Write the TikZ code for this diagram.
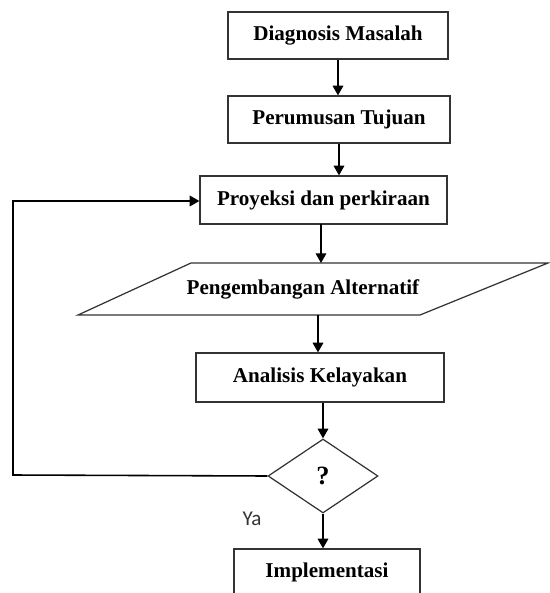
\documentclass[tikz,border=0pt]{standalone}
\usepackage{fontspec}
\setmainfont{Liberation Serif}
\newfontfamily\yafont{Carlito}
\usetikzlibrary{shapes.geometric,arrows.meta}

\begin{document}
\begin{tikzpicture}[
    box/.style={draw=black!80,line width=0.7pt,minimum height=0.94cm,inner sep=0pt,font=\fontsize{12}{14}\selectfont\bfseries},
    flow/.style={line width=0.9pt,-{Triangle[width=6pt,length=5.5pt]}}]
  \useasboundingbox (0,0) rectangle (11,-11.86);
  \clip (0,0) rectangle (11,-11.86);

  \node[box,minimum width=4.4cm] (diag) at (6.76,-0.71) {Diagnosis Masalah};
  \node[box,minimum width=4.44cm] (tuju) at (6.78,-2.39) {Perumusan Tujuan};
  \node[box,minimum width=4.94cm,minimum height=0.96cm] (proy) at (6.47,-4.0) {Proyeksi dan perkiraan};
  \node[box,draw=none,minimum height=1.04cm] (alt) at (6.06,-5.78) {Pengembangan Alternatif};
  \node[box,minimum width=4.96cm,minimum height=0.98cm] (anal) at (6.4,-7.55) {Analisis Kelayakan};
  \node[box,shape=diamond,minimum width=2.2cm,minimum height=1.48cm,font=\fontsize{15}{17}\selectfont\bfseries] (tanya) at (6.46,-9.52) {?};
  \node[box,minimum width=3.72cm] (impl) at (6.54,-11.45) {Implementasi};
  \node[font=\yafont\fontsize{12}{14}\selectfont,text=black!80] (ya) at (5.04,-10.38) {Ya};

  \coordinate (altNW) at (3.82,-5.26);
  \coordinate (altNE) at (10.96,-5.26);
  \coordinate (altSE) at (8.4,-6.3);
  \coordinate (altSW) at (1.56,-6.3);
  \coordinate (loopS) at (0.26,-9.5);
  \coordinate (loopN) at (0.26,-4.02);

  \draw[black!80,line width=0.7pt] (altNW) -- (altNE) -- (altSE) -- (altSW) -- cycle;

  \draw[flow] (diag.south) -- (diag.south |- tuju.north);
  \draw[flow] (tuju.south) -- (tuju.south |- proy.north);
  \draw[flow] (6.42,-4.48) -- (6.42 ,-5.26);
  \draw[flow] (6.36,-6.3) -- (anal.north -| 6.36,0);
  \draw[flow] (anal.south -| tanya.north) -- (tanya.north);
  \draw[flow] (tanya.south) -- (tanya.south |- impl.north);
  \draw[flow] (tanya.west) -- (loopS) -- (loopN) -- (loopN -| proy.west);
\end{tikzpicture}
\end{document}
